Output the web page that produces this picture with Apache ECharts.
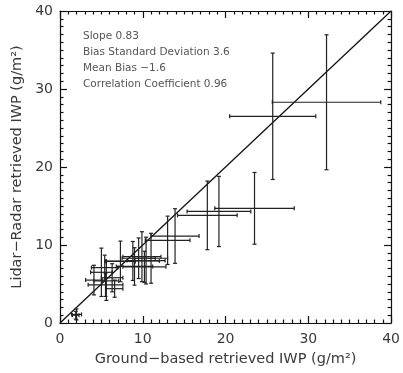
<!DOCTYPE html>
<html><head><meta charset="utf-8">
<script src="https://cdn.jsdelivr.net/npm/echarts@6/dist/echarts.min.js"></script>
<style>html,body{margin:0;padding:0;background:#fff}#c{width:403px;height:373px}</style>
</head><body><div id="c"></div>
<script>
// Ground-based retrieved IWP (x), Lidar-Radar retrieved IWP (y), and their error half-widths
const xs   = [32.2, 25.7, 23.5, 19.2, 17.8, 13.9, 13.0, 11.0, 10.4, 9.9, 9.5, 9.0, 8.8, 10.2, 7.3, 5.4, 5.0, 5.5, 5.6, 6.3, 4.1, 6.6, 2.0, 1.9];
const ys   = [28.3, 26.5, 14.7, 14.3, 13.8, 11.15, 10.6, 8.3, 8.0, 8.5, 8.3, 7.25, 7.95, 7.2, 7.9, 7.1, 6.5, 4.9, 5.4, 5.8, 5.5, 4.4, 1.1, 1.0];
const xerr = [6.55, 5.2, 4.8, 3.85, 3.6, 2.9, 2.7, 2.0, 2.3, 2.3, 2.0, 2.2, 3.2, 2.6, 1.8, 1.6, 1.3, 2.1, 1.5, 1.3, 1.0, 1.0, 0.6, 0.4];
const yerr = [8.65, 8.1, 4.6, 4.5, 4.4, 3.5, 3.1, 3.2, 3.0, 3.2, 2.6, 2.4, 2.5, 2.0, 2.6, 1.6, 3.1, 1.5, 2.5, 1.8, 1.9, 1.1, 0.7, 0.5];
const oneToOne = [[0, 0], [40, 40]];
const statLines = ['Slope 0.83', 'Bias Standard Deviation 3.6', 'Mean Bias \u22121.6', 'Correlation Coefficient 0.96'];
const xTitle = 'Ground\u2212based retrieved IWP (g/m\u00b2)';
const yTitle = 'Lidar\u2212Radar retrieved IWP (g/m\u00b2)';

const chart = echarts.init(document.getElementById('c'));
const font = 'DejaVu Sans';
const txtColor = '#3a3a3a';
function axisCommon() {
  return {
    min: 0, max: 40, interval: 10,
    axisLine: {show: true, onZero: false, lineStyle: {color: '#111', width: 1.2}},
    axisTick: {show: true, inside: true, length: 7, lineStyle: {color: '#111', width: 1.2}},
    minorTick: {show: true, splitNumber: 10, length: 3.5, lineStyle: {color: '#111', width: 1.2}},
    splitLine: {show: false},
    minorSplitLine: {show: false}
  };
}
const data = xs.map((x, i) => [x, ys[i], xerr[i], yerr[i]]);
chart.setOption({
  animation: false,
  grid: {left: 60, right: 11, top: 11, bottom: 50},
  xAxis: [
    Object.assign(axisCommon(), {type: 'value', position: 'bottom', name: xTitle, nameLocation: 'middle', nameGap: 29,
      nameTextStyle: {fontFamily: font, fontSize: 14.5, color: txtColor},
      axisLabel: {fontFamily: font, fontSize: 14, color: txtColor, margin: 9}}),
    Object.assign(axisCommon(), {type: 'value', position: 'top', axisLabel: {show: false}})
  ],
  yAxis: [
    Object.assign(axisCommon(), {type: 'value', position: 'left', name: yTitle, nameLocation: 'middle', nameGap: 33,
      nameTextStyle: {fontFamily: font, fontSize: 14.5, color: txtColor},
      axisLabel: {fontFamily: font, fontSize: 14, color: txtColor, margin: 7}}),
    Object.assign(axisCommon(), {type: 'value', position: 'right', axisLabel: {show: false}})
  ],
  graphic: statLines.map((t, i) => ({
    type: 'text', left: 83, top: 31 + i * 16,
    style: {text: t, fontFamily: font, fontSize: 10.5, fill: '#555'}
  })),
  series: [
    {type: 'line', data: oneToOne, symbol: 'none', lineStyle: {color: '#111', width: 1.3}, z: 3},
    {
      type: 'custom', data: data, z: 4,
      renderItem: function (params, api) {
        const x = api.value(0), y = api.value(1), ex = api.value(2), ey = api.value(3);
        const l = api.coord([x - ex, y]), r = api.coord([x + ex, y]);
        const t = api.coord([x, y + ey]), b = api.coord([x, y - ey]);
        const c = 2;
        const st = {stroke: '#222', lineWidth: 1.2};
        const ln = (x1, y1, x2, y2) => ({type: 'line', shape: {x1, y1, x2, y2}, style: st});
        return {type: 'group', children: [
          ln(l[0], l[1], r[0], r[1]),
          ln(t[0], t[1], b[0], b[1]),
          ln(l[0], l[1] - c, l[0], l[1] + c),
          ln(r[0], r[1] - c, r[0], r[1] + c),
          ln(t[0] - c, t[1], t[0] + c, t[1]),
          ln(b[0] - c, b[1], b[0] + c, b[1])
        ]};
      }
    }
  ]
});
</script></body></html>
